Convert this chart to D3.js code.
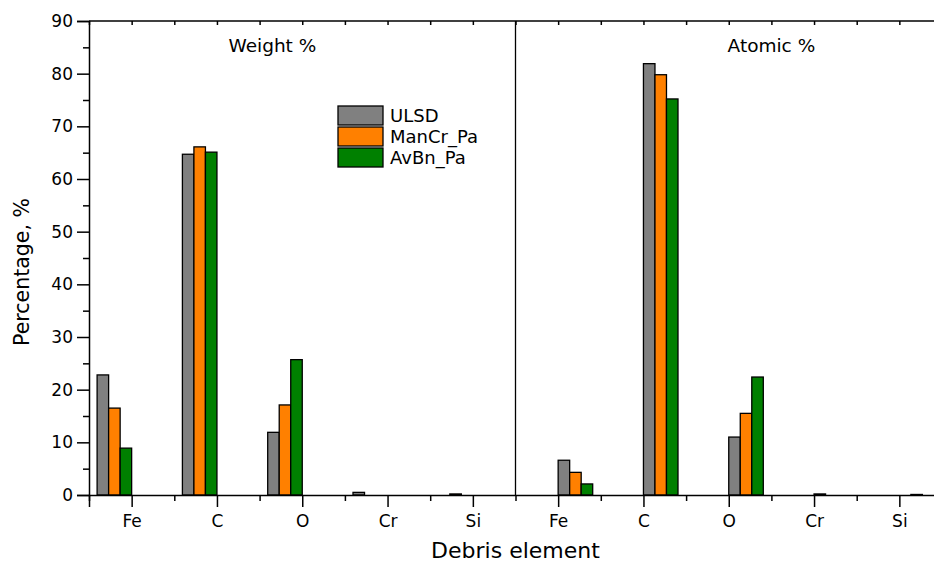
<!DOCTYPE html>
<html>
<head>
<meta charset="utf-8">
<script src="https://cdn.jsdelivr.net/npm/d3@7"></script>
<style>
body { margin: 0; background: #fff; }
svg { display: block; font-family: "DejaVu Sans", Arial, sans-serif; }
</style>
</head>
<body>
<svg id="chart" width="934" height="565"></svg>
<script>
// debris composition, weight % panel then atomic % panel
var elements = ['Fe', 'C', 'O', 'Cr', 'Si'];
var series = ['ULSD', 'ManCr_Pa', 'AvBn_Pa'];
var colors = ['#808080', '#FF8000', '#008000'];
var panels = ['Weight %', 'Atomic %'];

var weightULSD  = [22.8, 64.7, 11.9, 0.5, 0];
var weightManCr = [16.5, 66.1, 17.1, 0, 0.2];
var weightAvBn  = [8.9, 65.1, 25.7, 0, 0];

var atomicULSD  = [6.6, 81.9, 11.0, 0.2, 0];
var atomicManCr = [4.3, 79.8, 15.5, 0, 0.1];
var atomicAvBn  = [2.1, 75.2, 22.4, 0, 0];

var yTicks = [0, 10, 20, 30, 40, 50, 60, 70, 80, 90];

width = 934;
height = 565;
left = 89;
right = 942;
top_ = 21;
bottom = 495;
FONT = '"DejaVu Sans", Arial, sans-serif';

var svg = d3.select('#chart');

var nCat = elements.length * 2;
var x = d3.scaleLinear().domain([0, nCat]).range([left, right]);
var y = d3.scaleLinear().domain([0, 90]).range([bottom, top_]);
var barW = 0.135; // in category units

var weightSets = [weightULSD, weightManCr, weightAvBn];
var atomicSets = [atomicULSD, atomicManCr, atomicAvBn];

// build flat bar list
var bars = [];
for (var s = 0; s < series.length; s++) {
	for (var i = 0; i < elements.length; i++) {
		// weight bars sit left of the tick, atomic bars right of it
		bars.push({ pos: i + 0.5, off: (s - 3) * barW, v: weightSets[s][i], s: s });
		bars.push({ pos: elements.length + i + 0.5, off: s * barW, v: atomicSets[s][i], s: s });
	}
}

svg.append('g').selectAll('rect')
	.data(bars.filter(d => d.v > 0))
	.join('rect')
		.attr('x', d => x(d.pos + d.off))
		.attr('y', d => y(d.v))
		.attr('width', d => x(d.pos + d.off + barW) - x(d.pos + d.off))
		.attr('height', d => y(0) - y(d.v))
		.attr('fill', d => colors[d.s])
		.attr('stroke', '#000')
		.attr('stroke-width', 1.3);

// axes
var centers = d3.range(nCat).map(i => i + 0.5);
var minorX = d3.range(nCat + 1);

var xAxis = svg.append('g')
	.attr('transform', `translate(0,${bottom})`)
	.call(d3.axisBottom(x).tickValues(centers).tickSize(12).tickPadding(8)
		.tickFormat((d, i) => elements[i % elements.length]));
svg.append('g')
	.attr('transform', `translate(0,${bottom})`)
	.call(d3.axisBottom(x).tickValues(minorX).tickSize(6).tickFormat(''))
	.select('.domain').remove();

var yAxis = svg.append('g')
	.attr('transform', `translate(${left},0)`)
	.call(d3.axisLeft(y).tickValues(yTicks).tickSize(12).tickPadding(4));
svg.append('g')
	.attr('transform', `translate(${left},0)`)
	.call(d3.axisLeft(y).tickValues(yTicks.slice(0, -1).map(v => v + 5)).tickSize(6).tickFormat(''))
	.select('.domain').remove();

// top frame with inward ticks
svg.append('g')
	.attr('transform', `translate(0,${top_})`)
	.call(d3.axisBottom(x).tickValues(minorX.concat(centers)).tickSize(4).tickFormat('').tickSizeOuter(0))
	.select('.domain').remove();
svg.append('line')
	.attr('x1', left).attr('x2', right)
	.attr('y1', top_).attr('y2', top_)
	.attr('stroke', '#000').attr('stroke-width', 1.5);

svg.selectAll('.domain').attr('stroke', '#000').attr('stroke-width', 1.5);
svg.selectAll('.tick line').attr('stroke', '#000').attr('stroke-width', 1.5);
xAxis.selectAll('.tick text').attr('font-size', 17).attr('fill', '#000').attr('font-family', FONT);
yAxis.selectAll('.tick text').attr('font-size', 17).attr('fill', '#000').attr('font-family', FONT);

// panel divider
svg.append('line')
	.attr('x1', x(elements.length)).attr('x2', x(elements.length))
	.attr('y1', top_).attr('y2', bottom)
	.attr('stroke', '#000').attr('stroke-width', 1.3);

// panel titles
var titlePos = [2.15, 8.0];
panels.forEach(function(p, i) {
	svg.append('text')
		.attr('x', x(titlePos[i]))
		.attr('y', 52)
		.attr('text-anchor', 'middle')
		.attr('font-size', 18.5)
		.text(p);
});

// axis titles
svg.append('text')
	.attr('x', x(elements.length))
	.attr('y', 558)
	.attr('text-anchor', 'middle')
	.attr('font-size', 22)
	.text('Debris element');
svg.append('text')
	.attr('transform', `translate(29,${(top_ + bottom) / 2 + 14}) rotate(-90)`)
	.attr('text-anchor', 'middle')
	.attr('font-size', 20.5)
	.text('Percentage, %');

// legend
var legend = svg.append('g').attr('transform', 'translate(338,106)');
series.forEach(function(name, i) {
	legend.append('rect')
		.attr('x', 0).attr('y', i * 21)
		.attr('width', 45).attr('height', 19)
		.attr('fill', colors[i])
		.attr('stroke', '#000').attr('stroke-width', 1.3);
	legend.append('text')
		.attr('x', 52).attr('y', i * 21 + 16)
		.attr('font-size', 18)
		.text(name);
});
</script>
</body>
</html>
